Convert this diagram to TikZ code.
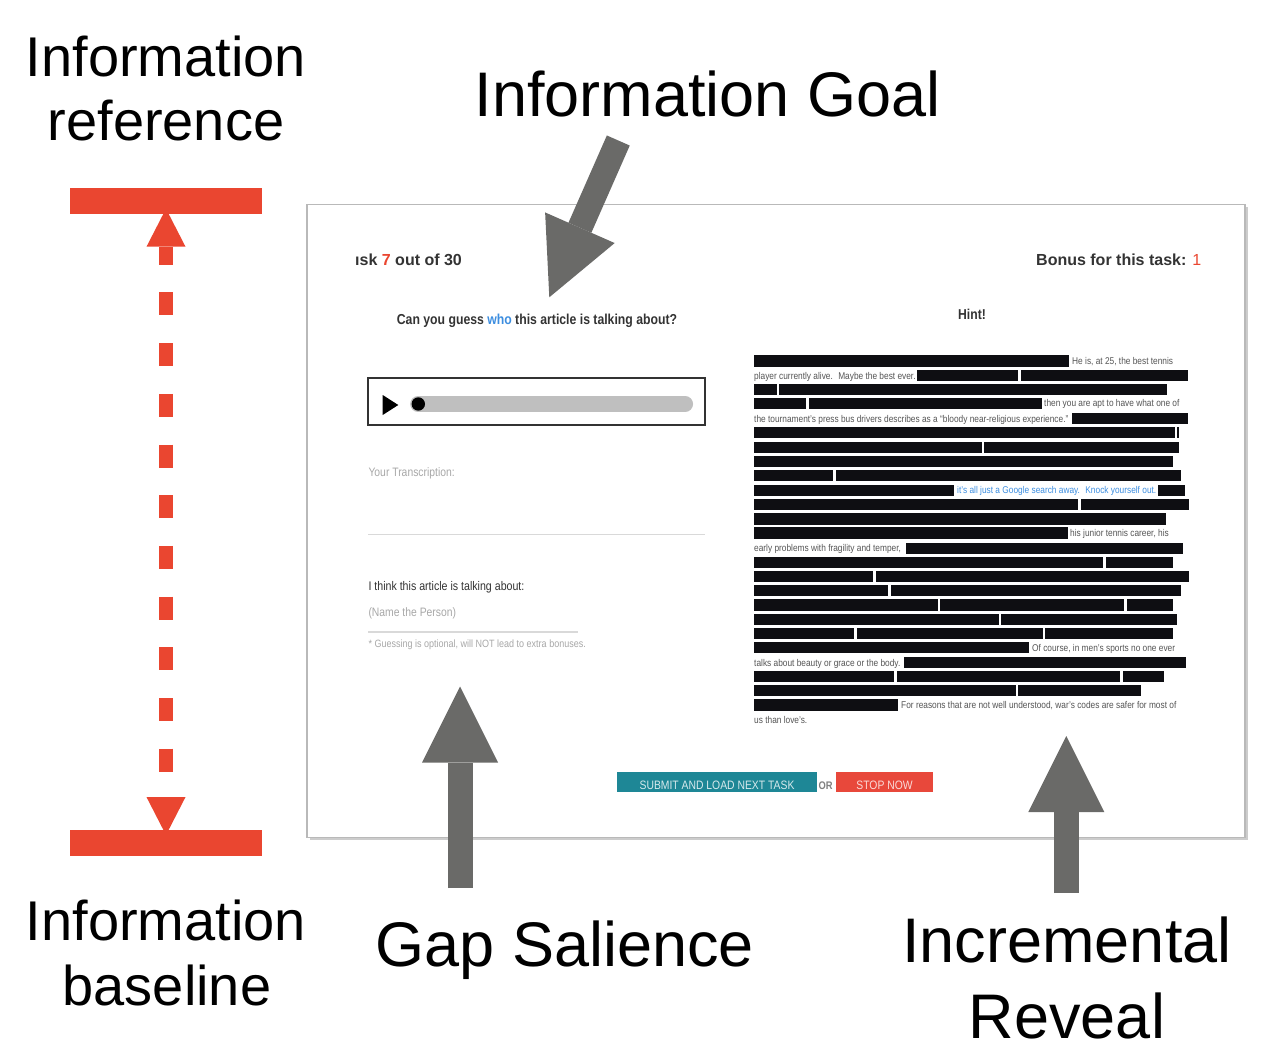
\documentclass[tikz,border=0pt]{standalone}
\usepackage{fontspec}
\setmainfont{Liberation Sans}
\newfontfamily\uifont[FakeStretch=0.85]{Liberation Sans}
\usetikzlibrary{arrows.meta,shadows}

\definecolor{accent}{HTML}{EA4630}
\definecolor{pointer}{HTML}{6A6A68}
\definecolor{ink}{HTML}{333333}
\definecolor{soft}{HTML}{A8A8A8}
\definecolor{bodytext}{HTML}{555555}
\definecolor{link}{HTML}{3D8EE0}
\definecolor{redact}{HTML}{0E0E12}
\definecolor{submitbg}{HTML}{1E8796}
\definecolor{stopbg}{HTML}{E8483B}

\tikzset{
  sidelabel/.style={anchor=base, inner sep=0pt, font=\fontsize{56}{64}\selectfont},
  biglabel/.style={anchor=base, inner sep=0pt, font=\fontsize{63}{70}\selectfont},
  limitbar/.style={fill=accent, minimum width=192pt, minimum height=25.5pt, inner sep=0pt},
  span/.style={draw=accent, line width=14pt, dash pattern=on 23pt off 27.7pt, dash phase=5pt,
    >={Triangle[length=38pt,width=39pt,line width=0pt]}, <->},
  pointerarrow/.style={draw=pointer, line width=25pt,
    >={Triangle[length=76pt,width=76pt,line width=0pt]}, ->},
  screen/.style={fill=white, draw=gray!55, line width=1.5pt, minimum width=938pt, minimum height=633pt,
    drop shadow={shadow xshift=2.5pt, shadow yshift=-2.5pt, fill=black, opacity=0.2}},
  hdr/.style={anchor=base west, inner sep=0pt, text=ink, font=\fontsize{16}{18}\selectfont\bfseries},
  ui/.style={anchor=base west, inner sep=0pt},
  rtxt/.style={anchor=base west, inner sep=0pt, text=bodytext, font=\uifont\fontsize{9.8}{11}\selectfont},
  btntxt/.style={anchor=base, inner sep=0pt, font=\uifont\fontsize{12.2}{14}\selectfont},
  rule/.style={draw=gray!30, line width=1.2pt},
}

\begin{document}
\begin{tikzpicture}[x=1pt, y=-1pt]
\useasboundingbox[fill=white] (0,0) rectangle (1286,1060);

% ---- information reference / baseline span ----
\node[limitbar] (reftop) at (166,200.75) {};
\node[limitbar] (basebar) at (166,843) {};
\draw[span] ([yshift=5pt]reftop.south) -- ([yshift=-5pt]basebar.north);
\node[sidelabel] (refA) at (166,76) {Information};
\node[sidelabel] (refB) at (166,140) {reference};
\node[sidelabel] (baseA) at (166,940) {Information};
\node[sidelabel] (baseB) at (167,1005) {baseline};

% ---- screenshot panel ----
\node[screen] (shot) at (776,521) {};

% header
\node[hdr] (taskno) at (355,265) {ısk \textcolor{accent}{7} out of 30};
\node[hdr] (bonus) at (1036,265) {Bonus for this task:\hspace{6pt}\textcolor{accent}{\mdseries 1}};

% left column
\node[ui, font=\uifont\fontsize{14.4}{16}\selectfont\bfseries, text=ink] (question) at (396.7,324)
  {Can you guess \textcolor{link}{who} this article is talking about?};
\node[draw=ink, line width=2pt, minimum width=336.7pt, minimum height=47pt, inner sep=0pt] (player) at (536.65,401.8) {};
\fill[black] (382.7,395) -- (398.3,405) -- (382.7,415) -- cycle;
\draw[gray!50, line width=15.7pt, line cap=round] (418,404) -- (685.2,404);
\fill[black] (418.3,404) circle (6.7pt);
\node[ui, text=soft, font=\uifont\fontsize{12.2}{14}\selectfont] (transcr) at (368.3,476) {Your Transcription:};
\draw[rule] (368.3,534.3) -- (705,534.3);
\node[ui, text=ink, font=\uifont\fontsize{12.5}{14}\selectfont] (guess) at (368.3,590) {I think this article is talking about:};
\node[ui, text=soft, font=\uifont\fontsize{12.2}{14}\selectfont] (name) at (368.3,616.7) {(Name the Person)};
\draw[rule] (368.3,632) -- (578.3,632);
\node[ui, text=soft, font=\uifont\fontsize{10.6}{12}\selectfont] (note) at (368.3,647.3) {* Guessing is optional, will NOT lead to extra bonuses.};

% right column: redacted article
\node[ui, text=ink, font=\uifont\fontsize{14.3}{16}\selectfont\bfseries] (hint) at (958,319) {Hint!};
\foreach \yy/\xa/\xb in {
  361/754/1069,
  375.7/917/1018, 375.7/1021/1188,
  389.3/754/777, 389.3/779/1167,
  403.3/754/806, 403.3/809/1042,
  418.6/1072/1188,
  432.7/754/1175, 432.7/1177/1179,
  447.3/754/982, 447.3/984/1179,
  461.3/754/1173,
  475.7/754/833, 475.7/836/1181,
  490.3/754/954, 490.3/1158/1185,
  504.3/754/1078, 504.3/1081/1189,
  519/754/1166,
  533/754/1068,
  548.3/906/1183,
  562.3/754/1103, 562.3/1106/1173,
  576.7/754/873, 576.7/876/1189,
  590.7/754/888, 590.7/891/1181,
  605/754/938, 605/940/1124, 605/1127/1173,
  619.3/754/999, 619.3/1001/1177,
  633.3/754/854, 633.3/857/1043, 633.3/1045/1173,
  647.7/754/1029,
  662.7/904/1186,
  676.7/754/894, 676.7/897/1120, 676.7/1123/1164,
  690.7/754/1016, 690.7/1018/1141,
  705/754/898}
  \fill[redact] (\xa,\yy-5.6) rectangle (\xb,\yy+5.6);
\node[rtxt] (s1) at (1072,364.4) {He is, at 25, the best tennis};
\node[rtxt] (s2) at (754,379.1) {player currently alive.~ Maybe the best ever.};
\node[rtxt] (s3) at (1044,406.7) {then you are apt to have what one of};
\node[rtxt] (s4) at (754,422) {the tournament’s press bus drivers describes as a “bloody near-religious experience.”};
\node[rtxt, text=link] (s5) at (957,493.7) {it’s all just a Google search away.~ Knock yourself out.};
\node[rtxt] (s6) at (1070,536.4) {his junior tennis career, his};
\node[rtxt] (s7) at (754,551.7) {early problems with fragility and temper,};
\node[rtxt] (s8) at (1032,651.1) {Of course, in men’s sports no one ever};
\node[rtxt] (s9) at (754,666.1) {talks about beauty or grace or the body.};
\node[rtxt] (s10) at (901,708.4) {For reasons that are not well understood, war’s codes are safer for most of};
\node[rtxt] (s11) at (754,723.4) {us than love’s.};

% buttons
\node[fill=submitbg, minimum width=199.4pt, minimum height=20pt, inner sep=0pt] (submit) at (717,781.7) {};
\node[btntxt, text=white!82!submitbg] (submittxt) at (717,789) {SUBMIT AND LOAD NEXT TASK};
\node[ui, text=gray, font=\uifont\fontsize{11}{13}\selectfont\bfseries] (or) at (818.5,789) {OR};
\node[fill=stopbg, minimum width=97.6pt, minimum height=20pt, inner sep=0pt] (stop) at (884.5,781.7) {};
\node[btntxt, text=white!80!stopbg] (stoptxt) at (884.5,789) {STOP NOW};

% ---- annotation arrows and labels ----
\node[biglabel] (goal) at (707.5,116) {Information Goal};
\coordinate (goaltail) at (618.3,140.5);
\coordinate (goalhead) at (549.3,297.3);
\draw[pointerarrow] (goaltail) -- (goalhead);

\node[biglabel] (gap) at (565,966) {Gap Salience};
\coordinate (gaptail) at (460,888);
\coordinate (gaphead) at (460,686.5);
\draw[pointerarrow] (gaptail) -- (gaphead);

\node[biglabel] (incA) at (1067,962) {Incremental};
\node[biglabel] (incB) at (1067,1038) {Reveal};
\coordinate (revtail) at (1066.3,893);
\coordinate (revhead) at (1066.3,736);
\draw[pointerarrow] (revtail) -- (revhead);
\end{tikzpicture}
\end{document}
